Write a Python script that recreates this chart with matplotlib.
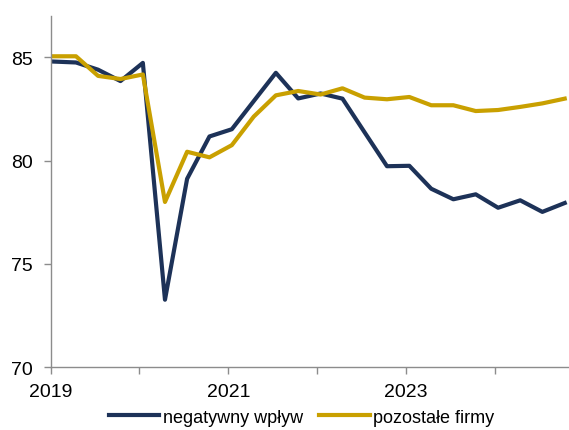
import matplotlib
matplotlib.use('Agg')
import matplotlib.pyplot as plt
import pandas as pd

# kwartalne odczyty (pierwszy punkt na poczatku 2019)
dates = ["2019-01-01", "2019-04-15", "2019-07-15", "2019-10-15",
         "2020-01-15", "2020-04-15", "2020-07-15", "2020-10-15",
         "2021-01-15", "2021-04-15", "2021-07-15", "2021-10-15",
         "2022-01-15", "2022-04-15", "2022-07-15", "2022-10-15",
         "2023-01-15", "2023-04-15", "2023-07-15", "2023-10-15",
         "2024-01-15", "2024-04-15", "2024-07-15", "2024-10-15"]

negatywny = [84.8, 84.75, 84.4, 83.85, 84.73, 73.27, 79.12, 81.17,
             81.52, 82.88, 84.25, 83.01, 83.25, 83.0, 81.37, 79.73,
             79.75, 78.64, 78.13, 78.37, 77.72, 78.08, 77.52, 77.95]

pozostale = [85.05, 85.05, 84.1, 83.95, 84.17, 78.0, 80.43, 80.16,
             80.75, 82.13, 83.16, 83.37, 83.2, 83.5, 83.05, 82.97,
             83.08, 82.68, 82.68, 82.4, 82.45, 82.6, 82.77, 83.0]

y_ticks = [70, 75, 80, 85]
x_years = [2019, 2020, 2021, 2022, 2023, 2024]
x_labels = ["2019", "", "2021", "", "2023", ""]

x = pd.to_datetime(dates)

plt.rcParams['font.family'] = ['Liberation Sans', 'DejaVu Sans']

fig = plt.figure(figsize=(5.69, 4.31), dpi=100)
ax = fig.add_axes([0.0891, 0.1455, 0.9367, 0.8151])

ax.plot(x, negatywny, color='#1d3258', linewidth=3, label='negatywny wpływ')
ax.plot(x, pozostale, color='#c9a000', linewidth=3, label='pozostałe firmy')

ax.set_xlim(pd.Timestamp("2019-01-01"), pd.Timestamp("2025-01-01"))
ax.set_ylim(70, 87)
ax.set_yticks(y_ticks)
ax.set_xticks([pd.Timestamp(f"{y}-01-01") for y in x_years])
ax.set_xticklabels(x_labels)

for s in ['top', 'right']:
    ax.spines[s].set_visible(False)
for s in ['left', 'bottom']:
    ax.spines[s].set_color('#8c8c8c')
    ax.spines[s].set_linewidth(1)

ax.tick_params(axis='y', length=5, width=1, color='#8c8c8c', labelsize=14, pad=8)
ax.tick_params(axis='x', length=5, width=1, color='#8c8c8c', labelsize=14, pad=6)

fig.legend(loc='center', bbox_to_anchor=(0.53, 0.03), ncol=2, frameon=False,
           fontsize=13, handlelength=2.8, handletextpad=0.2, columnspacing=0.9)

fig.savefig('out.png', dpi=100)
